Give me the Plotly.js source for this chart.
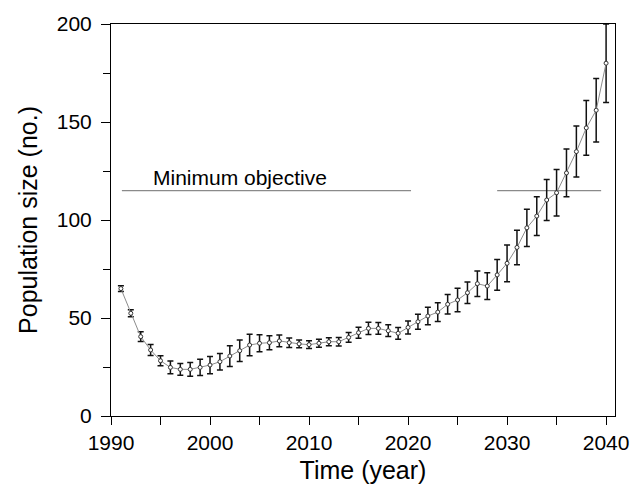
<!DOCTYPE html>
<html>
<head>
<meta charset="utf-8">
<script src="https://cdn.plot.ly/plotly-3.0.1.min.js"></script>
<style>html,body{margin:0;padding:0;background:#fff;}#chart{width:642px;height:496px;}</style>
</head>
<body>
<div id="chart"></div>
<script>
const years = [1991,1992,1993,1994,1995,1996,1997,1998,1999,2000,
  2001,2002,2003,2004,2005,2006,2007,2008,2009,2010,
  2011,2012,2013,2014,2015,2016,2017,2018,2019,2020,
  2021,2022,2023,2024,2025,2026,2027,2028,2029,2030,
  2031,2032,2033,2034,2035,2036,2037,2038,2039,2040];
const population = [65,52.4,40.5,33.7,28.2,24.8,23.8,23.8,24.8,26,
  27.7,30.6,33.3,36.2,37.1,37.4,38.3,37.4,36.8,36.4,
  37.1,37.9,37.9,40.1,42.5,44.7,44.7,43.5,42.2,45.2,
  48.1,51,53,57,59.2,62.9,67.5,66.3,72,77.9,
  86,96,102,110.2,113.9,124,134.9,147,156,180];
const errors = [1.5,1.8,2.5,2.8,2.5,3.2,3,3.5,4.2,4.4,
  4.2,5.3,5.5,5.5,4.3,3.6,3,2.4,2,2,
  2,2,2.2,2.5,2.8,3.1,3,3,3,3.3,
  3.8,4.5,4.8,5,6,5.5,6.5,6.8,7.8,9.4,
  8.8,9.5,9.9,10.5,11.9,12.2,13,14,16.2,20];
const objectiveX = [1991.1,2020.3,null,2029,2039.5];
const objectiveY = [115,115,null,115,115];
const objectiveLabel = "Minimum objective";
const xTitle = "Time (year)";
const yTitle = "Population size (no.)";

const font = "Liberation Sans, Arial, Helvetica, sans-serif";

const traces = [
  {x: objectiveX, y: objectiveY, type: 'scatter', mode: 'lines',
   line: {color: '#8a8a8a', width: 1.2}, hoverinfo: 'skip', connectgaps: false},
  {x: years, y: population, type: 'scatter', mode: 'lines+markers',
   line: {color: '#8c8c8c', width: 1},
   marker: {symbol: 'circle', size: 4, color: '#fff', line: {width: 1, color: '#333'}},
   error_y: {type: 'data', array: errors, visible: true, color: '#111', thickness: 1.5, width: 3}}
];

const layout = {
  width: 642, height: 496,
  margin: {l: 110.5, r: 27, t: 24, b: 80},
  paper_bgcolor: '#fff', plot_bgcolor: '#fff',
  showlegend: false,
  font: {family: font, color: '#000', size: 21},
  xaxis: {
    range: [1990, 2040.9], dtick: 10, tick0: 1990,
    showgrid: false, zeroline: false,
    showline: true, linecolor: '#000', linewidth: 1, mirror: true,
    ticks: 'outside', ticklen: 8, tickcolor: '#000', tickwidth: 1,
    minor: {dtick: 5, tick0: 1990, ticks: 'outside', ticklen: 8, tickcolor: '#000', showgrid: false},
    tickfont: {size: 21, family: font},
    title: {text: xTitle, font: {size: 25, family: font}, standoff: 8}
  },
  yaxis: {
    range: [0, 200], dtick: 50,
    showgrid: false, zeroline: false,
    showline: true, linecolor: '#000', linewidth: 1, mirror: true,
    ticks: 'outside', ticklen: 9, tickcolor: '#000', tickwidth: 1,
    ticklabelstandoff: 5,
    minor: {dtick: 25, ticks: 'outside', ticklen: 7, tickcolor: '#000', showgrid: false},
    tickfont: {size: 21, family: font},
    title: {text: yTitle, font: {size: 25, family: font}, standoff: 12}
  },
  annotations: [{
    x: 1994, y: 121.5, xref: 'x', yref: 'y', xanchor: 'left', yanchor: 'middle',
    text: objectiveLabel, showarrow: false, font: {size: 21, family: font, color: '#000'}
  }]
};

Plotly.newPlot('chart', traces, layout, {displayModeBar: false, staticPlot: true});
</script>
</body>
</html>
